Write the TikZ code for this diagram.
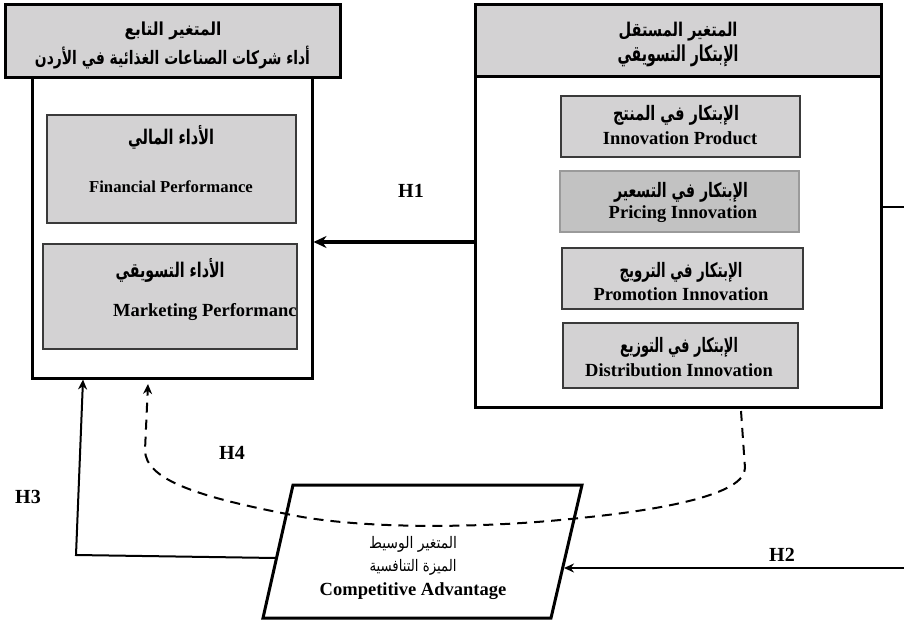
\documentclass[tikz,border=0pt]{standalone}
\usepackage{fontspec}
\usepackage{graphicx}
\TeXXeTstate=1
\setmainfont{Liberation Serif}
\newfontfamily\arabicfont[Script=Arabic]{DejaVu Sans}
\usetikzlibrary{arrows.meta}
\definecolor{boxgray}{HTML}{D3D2D3}
\definecolor{pricegray}{HTML}{C2C2C2}
\definecolor{priceedge}{HTML}{9A9A9A}
\definecolor{edgegray}{HTML}{3A3A3A}
\newcommand{\ARb}[3]{\resizebox*{#1pt}{#2pt}{\arabicfont\bfseries #3}}
\newcommand{\ARr}[3]{\resizebox*{#1pt}{#2pt}{\arabicfont #3}}
\begin{document}
\begin{tikzpicture}[x=1pt,y=-1pt,
  outerbox/.style={draw=black, line width=3pt, fill=white, inner sep=0pt},
  hdrbox/.style={draw=black, line width=3pt, fill=boxgray, inner sep=0pt},
  innerbox/.style={draw=edgegray, line width=1.5pt, fill=boxgray, inner sep=0pt},
  pricebox/.style={draw=priceedge, line width=1.5pt, fill=pricegray, inner sep=0pt},
  entext/.style={font=\fontsize{18.5}{20}\selectfont\bfseries, inner sep=0pt},
  artext/.style={inner sep=0pt},
  hlabel/.style={font=\fontsize{20}{22}\selectfont\bfseries, inner sep=0pt},
  conn/.style={line width=2pt, -{Stealth[length=10pt,width=9pt]}},
  dashconn/.style={line width=2pt, dash pattern=on 10pt off 7pt, -{Stealth[length=10pt,width=9pt]}}
]
\useasboundingbox (0,0) rectangle (904,623);

% Left box (dependent variable)
\node[outerbox, minimum width=280pt, minimum height=301pt] (lb) at (172,227.5) {};
\node[hdrbox, minimum width=335pt, minimum height=73pt] (lh) at (172.5,41.5) {};
\node[artext] (lh1) at (173,31) {\ARb{97}{18}{\beginR المتغير  التابع\endR}};
\node[artext] (lh2) at (172.5,58) {\ARb{275}{23}{\beginR أداء شركات الصناعات الغذائية في الأردن\endR}};

\node[innerbox, minimum width=249pt, minimum height=108pt] (fin) at (171.5,169) {};
\node[artext] (fina) at (171,137) {\ARb{86}{24}{\beginR الأداء المالي\endR}};
\node[entext, font=\fontsize{16.7}{18}\selectfont\bfseries] (fine) at (171,187) {Financial Performance};

\node[innerbox, minimum width=254pt, minimum height=105pt] (mkt) at (170,296.5) {};
\node[artext] (mkta) at (170,270) {\ARb{109}{24}{\beginR الأداء التسويقي\endR}};
\node[entext, anchor=west] (mkte) at (113,312) {Marketing Performanc};

% Right box (independent variable)
\node[outerbox, minimum width=406pt, minimum height=330pt] (rb) at (678,242) {};
\node[hdrbox, minimum width=406pt, minimum height=72pt] (rh) at (678,41) {};
\node[artext] (rh1) at (678,32) {\ARb{119}{19}{\beginR المتغير  المستقل\endR}};
\node[artext] (rh2) at (678,56) {\ARb{121}{22}{\beginR الإبتكار التسويقي\endR}};

\node[innerbox, minimum width=239pt, minimum height=61pt] (prod) at (680.5,126.5) {};
\node[artext] (proda) at (676,115) {\ARb{126}{20}{\beginR الإبتكار في  المنتج\endR}};
\node[entext] (prode) at (680,138) {Innovation Product};

\node[pricebox, minimum width=239pt, minimum height=61pt] (pric) at (679.5,201.5) {};
\node[artext] (prica) at (681,192) {\ARb{134}{20}{\beginR الإبتكار في التسعير\endR}};
\node[entext] (price) at (683,214) {Pricing Innovation};

\node[innerbox, minimum width=241pt, minimum height=61pt] (prom) at (682.5,278.5) {};
\node[artext] (proma) at (681,272) {\ARb{123}{20}{\beginR الإبتكار في الترويج\endR}};
\node[entext] (prome) at (681,294) {Promotion Innovation};

\node[innerbox, minimum width=235pt, minimum height=65pt] (dist) at (680.5,355.5) {};
\node[artext] (dista) at (679,347) {\ARb{118}{20}{\beginR الإبتكار في التوزيع\endR}};
\node[entext] (diste) at (679,370) {Distribution Innovation};

% Mediator parallelogram
\coordinate (p1) at (293,485);
\coordinate (p2) at (582,485);
\coordinate (p3) at (551,618);
\coordinate (p4) at (263,618);
\draw[line width=3pt, line join=miter, fill=white] (p1) -- (p2) -- (p3) -- (p4) -- cycle;
\node[artext] (meda1) at (413,544) {\ARr{88}{16}{\beginR المتغير الوسيط\endR}};
\node[artext] (meda2) at (413,567) {\ARr{87}{16}{\beginR الميزة التنافسية\endR}};
\node[entext] (mede) at (413,591) {Competitive Advantage};

% H1
\coordinate (h1) at (0,242);
\draw[line width=3.5pt, -{Stealth[length=13pt,width=12pt]}] (rb.west |- h1) -- (lb.east |- h1);
\node[hlabel] (lab1) at (411,191) {H1};

% line leaving the right box to the right edge
\coordinate (r1) at (904,207);
\draw[line width=2pt] (rb.east |- r1) -- (r1);

% H2
\coordinate (r2) at (904,568);
\coordinate (pr2) at (564,568);
\draw[conn] (r2) -- (pr2);
\node[hlabel] (lab2) at (782,555) {H2};

% H3
\coordinate (pl) at (276,558);
\coordinate (h3c) at (76,555);
\coordinate (h3e) at (83,379.5);
\draw[conn, line join=miter] (pl) -- (h3c) -- (h3e);
\node[hlabel] (lab3) at (28,497) {H3};

% H4 (dashed)
\coordinate (h4s) at (741,411);
\coordinate (h4e) at (148,384);
\draw[dashconn] (h4s) -- (745,468) .. controls (745,495) and (660,510) .. (580,518)
  .. controls (470,530) and (350,528) .. (287,514)
  .. controls (200,497) and (145,480) .. (145,450) -- (h4e);
\node[hlabel] (lab4) at (232,453) {H4};

\end{tikzpicture}
\end{document}
